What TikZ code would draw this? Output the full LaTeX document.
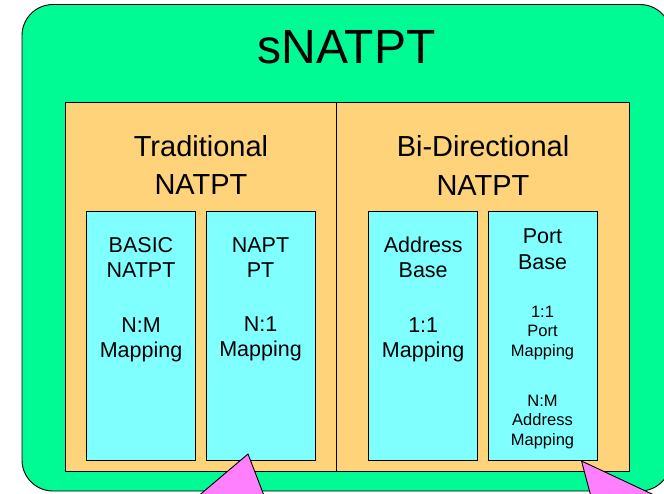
\documentclass[tikz,border=0pt]{standalone}
\usepackage{fontspec}
\setmainfont{Liberation Sans}
\definecolor{natgreen}{RGB}{0,250,148}
\definecolor{natorange}{RGB}{255,211,122}
\definecolor{natcyan}{RGB}{128,255,255}
\definecolor{natpink}{RGB}{255,128,255}
\tikzset{
  panel/.style={draw=black, line width=0.9pt, inner sep=0pt, outer sep=0pt, anchor=north west},
  modebox/.style={panel, fill=natcyan, minimum width=109pt, minimum height=249pt},
  caption/.style={anchor=north, align=center, inner sep=0pt, outer sep=0pt},
  bigtext/.style={caption, font=\fontsize{21.5}{25}\selectfont},
  smalltext/.style={caption, font=\fontsize{16.5}{19.5}\selectfont},
  headtext/.style={caption, font=\fontsize{29}{38.7}\selectfont},
  pointer/.style={fill=natpink, draw=black, line width=0.9pt, line join=miter}
}
\begin{document}
\begin{tikzpicture}[x=1pt, y=-1pt]
\useasboundingbox (0,0) rectangle (664,493);
\clip (0,0) rectangle (664,493);

% outer sNATPT frame
\node[panel, fill=natgreen, rounded corners=31pt, minimum width=649pt, minimum height=486.5pt] (snatpt) at (22,4.5) {};
\node[caption, font=\fontsize{48}{56}\selectfont] (title) at (346.5,30.1) {sNATPT};

% the two NATPT variants
\node[panel, fill=natorange, minimum width=271.5pt, minimum height=369.7pt] (trad) at (65,102) {};
\node[panel, fill=natorange, minimum width=292.5pt, minimum height=369.7pt] (bidir) at (336.5,102) {};
\node[headtext] (tradlabel) at (201,135.2) {Traditional\\NATPT};
\node[headtext] (bidirlabel) at (483,135.7) {Bi-Directional\\NATPT};

% mapping modes
\node[modebox, minimum width=108.3pt] (basic) at (86.7,211) {};
\node[modebox] (napt) at (206,211) {};
\node[modebox] (addr) at (368.7,211) {};
\node[modebox] (port) at (488,211) {};

\node[bigtext] (basiclabel) at (141,237.3) {BASIC\\NATPT\\[29.8pt]N:M\\Mapping};
\node[bigtext] (naptlabel) at (260.5,237.3) {NAPT\\PT\\[29.8pt]N:1\\Mapping};
\node[bigtext] (addrlabel) at (423.2,237.3) {Address\\Base\\[29.8pt]1:1\\Mapping};
\node[bigtext, font=\fontsize{21.5}{26}\selectfont] (portlabel) at (542.5,228.9) {Port\\Base};
\node[smalltext] (portmaps) at (542.5,305.9) {1:1\\Port\\Mapping\\[30.5pt]N:M\\Address\\Mapping};

% callout pointers
\filldraw[pointer] (170,520) -- (248,454) -- (273.4,520) -- cycle;
\filldraw[pointer] (597.2,520) -- (581.5,461) -- (707.4,520) -- cycle;
\end{tikzpicture}
\end{document}
